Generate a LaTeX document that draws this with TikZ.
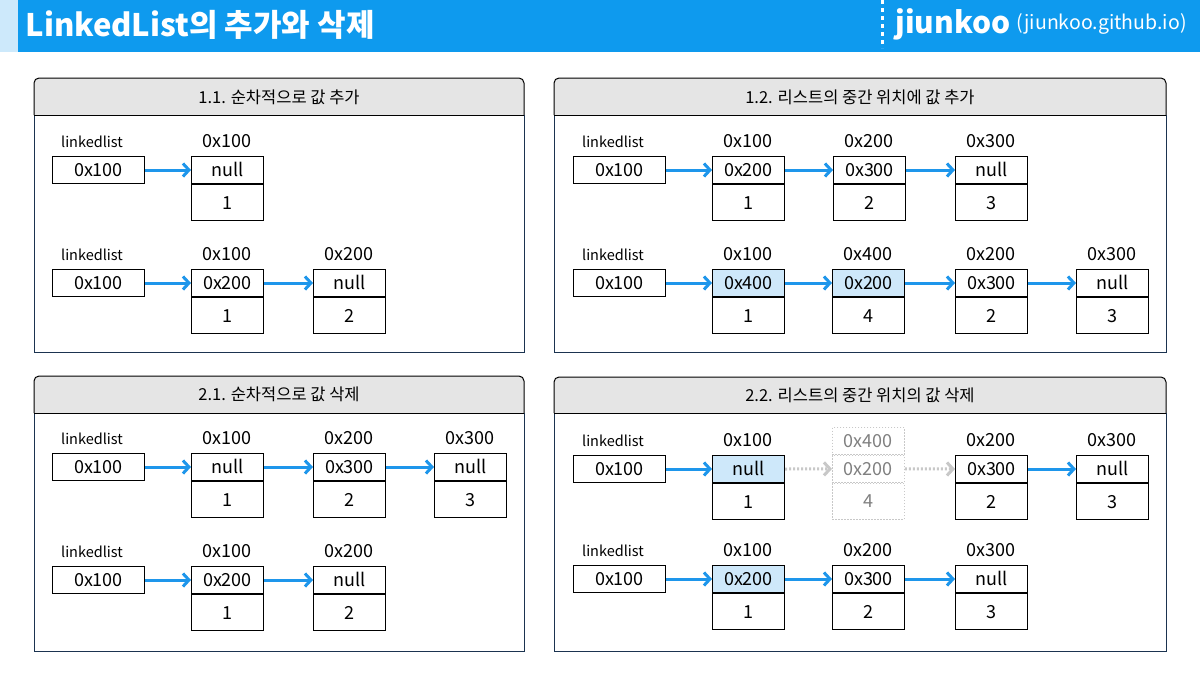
\documentclass[tikz,border=0pt]{standalone}
\usepackage{fontspec}
\setmainfont{Noto Sans CJK KR}
\usetikzlibrary{arrows.meta}
\definecolor{bar}{RGB}{14,154,238}
\definecolor{barlight}{RGB}{205,233,251}
\definecolor{arrowblue}{RGB}{30,150,235}
\definecolor{hot}{RGB}{206,232,250}
\definecolor{headgray}{RGB}{229,229,229}
\definecolor{frame}{RGB}{27,51,80}
\definecolor{ghost}{RGB}{200,200,200}

\tikzset{
  panel/.style={draw=frame, line width=1pt},
  headbar/.style={fill=headgray, draw=black, line width=1pt, rounded corners=5},
  headtext/.style={font=\fontsize{16.5}{16.5}\selectfont},
  cell/.style={draw=black, line width=1pt, minimum width=72, minimum height=27, inner sep=0, text height=13pt, text depth=0pt, font=\fontsize{18}{18}\selectfont},
  valcell/.style={cell, minimum height=36},
  hotcell/.style={cell, fill=hot},
  ghostcell/.style={cell, draw=ghost, line width=0.8pt, dash pattern=on 1.5pt off 1.5pt, text=gray},
  addrlabel/.style={font=\fontsize{18}{18}\selectfont},
  namelabel/.style={font=\fontsize{14.5}{14.5}\selectfont},
  nextarrow/.style={draw=arrowblue, line width=3pt, -{Straight Barb[length=6pt,width=13pt]}},
  ghostarrow/.style={draw=ghost, line width=3pt, dash pattern=on 2pt off 2pt, -{Straight Barb[length=6pt,width=13pt]}},
}

% name, left x, top y, address, next, value, style of the next cell
\newcommand\listnode[7]{%
  \node[addrlabel] (#1a) at (#2+36,#3-15) {#4};
  \node[#7, anchor=north west] (#1p) at (#2,#3) {#5};
  \node[valcell, anchor=north] (#1v) at (#1p.south) {#6};
}
% name, left x, top y, value
\newcommand\listhead[4]{%
  \node[namelabel] (#1n) at (#2+40,#3-14) {linkedlist};
  \node[cell, minimum width=92, anchor=north west] (#1) at (#2,#3) {#4};
}

\begin{document}
\begin{tikzpicture}[x=1pt, y=-1pt]
\useasboundingbox[fill=white] (0,0) rectangle (1200,675);

% title bar
\fill[barlight] (0,0) rectangle (18,52);
\fill[bar] (18,0) rectangle (1200,52);
\node[anchor=west, text=white, font=\fontsize{31}{31}\selectfont\bfseries] (title) at (22,25) {LinkedList의 추가와 삭제};
\draw[white, line width=3pt, dash pattern=on 4pt off 4pt] (882,0) -- (882,48);
\node[anchor=west, text=white, font=\fontsize{30}{30}\selectfont\bfseries] (brand) at (892,24) {jiunkoo};
\node[anchor=west, text=white, font=\fontsize{19.5}{19.5}\selectfont, inner sep=2pt] (site) at (brand.east) {(jiunkoo.github.io)};

% 1.1
\draw[panel] (34,115) rectangle (524,352);
\filldraw[headbar] (34,115) -- (34,78) -- (524,78) -- (524,115);
\draw[line width=1pt] (34,115) -- (524,115);
\node[headtext] (t11) at (279,97) {1.1. 순차적으로 값 추가};

\listhead{h11a}{52}{156}{0x100}
\listnode{a1}{191}{156}{0x100}{null}{1}{cell}
\draw[nextarrow] (h11a.east) -- (a1p.west);

\listhead{h11b}{52}{269}{0x100}
\listnode{b1}{191}{269}{0x100}{0x200}{1}{cell}
\listnode{b2}{313}{269}{0x200}{null}{2}{cell}
\draw[nextarrow] (h11b.east) -- (b1p.west);
\draw[nextarrow] (b1p.east) -- (b2p.west);

% 1.2
\draw[panel] (554,115) rectangle (1166,352);
\filldraw[headbar] (554,115) -- (554,78) -- (1166,78) -- (1166,115);
\draw[line width=1pt] (554,115) -- (1166,115);
\node[headtext] (t12) at (860,97) {1.2. 리스트의 중간 위치에 값 추가};

\listhead{h12a}{573}{156}{0x100}
\listnode{c1}{712}{156}{0x100}{0x200}{1}{cell}
\listnode{c2}{833}{156}{0x200}{0x300}{2}{cell}
\listnode{c3}{955}{156}{0x300}{null}{3}{cell}
\draw[nextarrow] (h12a.east) -- (c1p.west);
\draw[nextarrow] (c1p.east) -- (c2p.west);
\draw[nextarrow] (c2p.east) -- (c3p.west);

\listhead{h12b}{573}{269}{0x100}
\listnode{d1}{712}{269}{0x100}{0x400}{1}{hotcell}
\listnode{d2}{832}{269}{0x400}{0x200}{4}{hotcell}
\listnode{d3}{955}{269}{0x200}{0x300}{2}{cell}
\listnode{d4}{1076}{269}{0x300}{null}{3}{cell}
\draw[nextarrow] (h12b.east) -- (d1p.west);
\draw[nextarrow] (d1p.east) -- (d2p.west);
\draw[nextarrow] (d2p.east) -- (d3p.west);
\draw[nextarrow] (d3p.east) -- (d4p.west);

% 2.1
\draw[panel] (34,413) rectangle (524,651);
\filldraw[headbar] (34,413) -- (34,376) -- (524,376) -- (524,413);
\draw[line width=1pt] (34,413) -- (524,413);
\node[headtext] (t21) at (279,394) {2.1. 순차적으로 값 삭제};

\listhead{h21a}{52}{453}{0x100}
\listnode{e1}{191}{453}{0x100}{null}{1}{cell}
\listnode{e2}{313}{453}{0x200}{0x300}{2}{cell}
\listnode{e3}{434}{453}{0x300}{null}{3}{cell}
\draw[nextarrow] (h21a.east) -- (e1p.west);
\draw[nextarrow] (e1p.east) -- (e2p.west);
\draw[nextarrow] (e2p.east) -- (e3p.west);

\listhead{h21b}{52}{566}{0x100}
\listnode{f1}{191}{566}{0x100}{0x200}{1}{cell}
\listnode{f2}{313}{566}{0x200}{null}{2}{cell}
\draw[nextarrow] (h21b.east) -- (f1p.west);
\draw[nextarrow] (f1p.east) -- (f2p.west);

% 2.2
\draw[panel] (554,413) rectangle (1166,651);
\filldraw[headbar] (554,413) -- (554,377) -- (1166,377) -- (1166,413);
\draw[line width=1pt] (554,413) -- (1166,413);
\node[headtext] (t22) at (860,395) {2.2. 리스트의 중간 위치의 값 삭제};

\listhead{h22a}{573}{455}{0x100}
\listnode{g1}{712}{455}{0x100}{null}{1}{hotcell}
\node[ghostcell, anchor=south west] (g2a) at (832,455) {0x400};
\node[ghostcell, anchor=north west] (g2p) at (832,455) {0x200};
\node[ghostcell, minimum height=36, anchor=north] (g2v) at (g2p.south) {4};
\listnode{g3}{955}{455}{0x200}{0x300}{2}{cell}
\listnode{g4}{1076}{455}{0x300}{null}{3}{cell}
\draw[nextarrow] (h22a.east) -- (g1p.west);
\draw[ghostarrow] (g1p.east) -- (g2p.west);
\draw[ghostarrow] (g2p.east) -- (g3p.west);
\draw[nextarrow] (g3p.east) -- (g4p.west);

\listhead{h22b}{573}{565}{0x100}
\listnode{k1}{712}{565}{0x100}{0x200}{1}{hotcell}
\listnode{k2}{832}{565}{0x200}{0x300}{2}{cell}
\listnode{k3}{955}{565}{0x300}{null}{3}{cell}
\draw[nextarrow] (h22b.east) -- (k1p.west);
\draw[nextarrow] (k1p.east) -- (k2p.west);
\draw[nextarrow] (k2p.east) -- (k3p.west);
\end{tikzpicture}
\end{document}
